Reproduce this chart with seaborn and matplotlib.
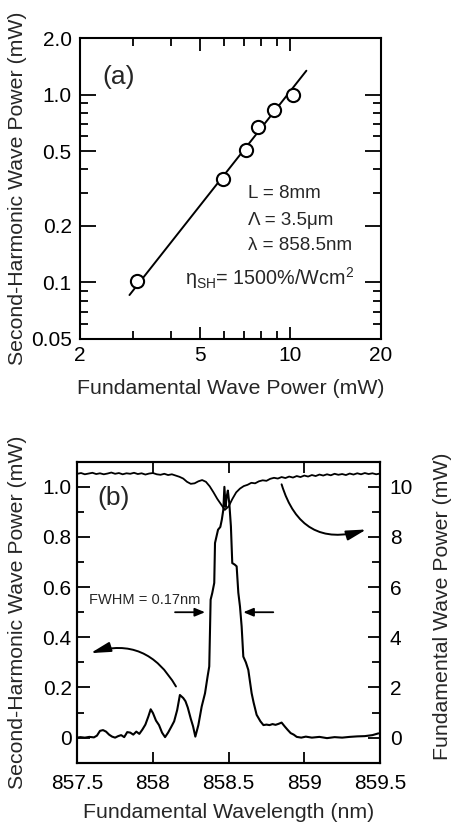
import numpy as np
import pandas as pd
import matplotlib
matplotlib.use("Agg")
import matplotlib.pyplot as plt
import seaborn as sns
from matplotlib.ticker import FixedLocator, FixedFormatter, NullFormatter

# ---------------- data: panel (a) ----------------
fund_power_a = [3.1, 5.95, 7.1, 7.8, 8.8, 10.2]          # mW
sh_power_a = [0.102, 0.357, 0.505, 0.67, 0.825, 0.995]   # mW
fit_fund = [2.92, 11.3]
fit_sh = [0.0857, 1.34]

a_xticks = [2, 5, 10, 20]
a_xlabels = ["2", "5", "10", "20"]
a_xminor = [3, 4, 6, 7, 8, 9]
a_yticks = [0.05, 0.1, 0.2, 0.5, 1.0, 2.0]
a_ylabels = ["0.05", "0.1", "0.2", "0.5", "1.0", "2.0"]
a_yminor = [0.06, 0.07, 0.08, 0.09, 0.3, 0.4, 0.6, 0.7, 0.8, 0.9]

# ---------------- data: panel (b) ----------------
sh_wavelength = [857.50, 857.52, 857.55, 857.58, 857.61, 857.63, 857.65, 857.67, 857.69,
                 857.71, 857.73, 857.75, 857.77, 857.79, 857.81, 857.83, 857.85, 857.87,
                 857.89, 857.91, 857.93, 857.95, 857.97, 857.985, 858.00, 858.02, 858.04,
                 858.06, 858.08, 858.10, 858.12, 858.14, 858.16, 858.178, 858.20, 858.215,
                 858.23, 858.25, 858.265, 858.28, 858.30, 858.322, 858.344, 858.361, 858.372,
                 858.377, 858.381, 858.392, 858.405, 858.41, 858.43, 858.445, 858.455,
                 858.465, 858.472, 858.480, 858.487, 858.495, 858.505, 858.515, 858.524,
                 858.540, 858.553, 858.564, 858.575, 858.586, 858.597, 858.614, 858.630,
                 858.652, 858.665, 858.685, 858.71, 858.73, 858.75, 858.77, 858.79, 858.81,
                 858.83, 858.85, 858.87, 858.89, 858.91, 858.93, 858.95, 858.98, 859.01,
                 859.05, 859.10, 859.15, 859.20, 859.25, 859.30, 859.35, 859.40, 859.45,
                 859.49]
sh_power_b = [0.000, 0.002, 0.000, 0.003, 0.001, 0.008, 0.027, 0.030, 0.024,
              0.012, 0.004, 0.000, 0.006, 0.010, 0.002, 0.022, 0.020, 0.012,
              0.024, 0.015, 0.032, 0.052, 0.085, 0.113, 0.098, 0.068, 0.050,
              0.020, 0.002, 0.020, 0.042, 0.065, 0.110, 0.170, 0.158, 0.145,
              0.120, 0.075, 0.045, 0.004, 0.050, 0.124, 0.177, 0.244, 0.284,
              0.430, 0.550, 0.577, 0.617, 0.776, 0.829, 0.840, 0.869,
              0.909, 1.000, 0.920, 0.960, 0.985, 0.930, 0.843, 0.696,
              0.690, 0.683, 0.578, 0.523, 0.443, 0.323, 0.300, 0.270,
              0.177, 0.140, 0.091, 0.065, 0.050, 0.052, 0.050, 0.054, 0.051,
              0.055, 0.060, 0.045, 0.031, 0.018, 0.012, 0.003, 0.000, 0.004,
              0.000, 0.003, -0.002, 0.002, 0.000, 0.003, 0.005, 0.006, 0.010,
              0.017]

fw_wavelength = [857.500, 857.525, 857.550, 857.575, 857.600, 857.625, 857.650, 857.675,
                 857.700, 857.725, 857.750, 857.775, 857.800, 857.825, 857.850, 857.875,
                 857.900, 857.925, 857.950, 857.975, 858.000, 858.025, 858.050, 858.075,
                 858.100, 858.125, 858.150, 858.175, 858.200, 858.225, 858.250, 858.275,
                 858.300, 858.325, 858.350, 858.375, 858.400, 858.425, 858.450, 858.475,
                 858.500, 858.525, 858.550, 858.575, 858.600, 858.625, 858.650, 858.675,
                 858.700, 858.725, 858.750, 858.775, 858.800, 858.825, 858.850, 858.875,
                 858.900, 858.925, 858.950, 858.975, 859.000, 859.025, 859.050, 859.075,
                 859.100, 859.125, 859.150, 859.175, 859.200, 859.225, 859.250, 859.275,
                 859.300, 859.325, 859.350, 859.375, 859.400, 859.425, 859.450, 859.475,
                 859.500]
fw_power_b = [10.52, 10.55, 10.50, 10.53, 10.56, 10.51, 10.54, 10.50,
              10.53, 10.57, 10.52, 10.55, 10.50, 10.54, 10.52, 10.56,
              10.51, 10.54, 10.49, 10.53, 10.55, 10.50, 10.48, 10.52,
              10.47, 10.50, 10.45, 10.40, 10.33, 10.20, 10.12, 10.14,
              10.22, 10.27, 10.20, 10.02, 9.78, 9.52, 9.30, 9.08,
              9.22, 9.52, 9.78, 9.93, 10.03, 10.08, 10.16, 10.14,
              10.22, 10.26, 10.24, 10.32, 10.36, 10.33, 10.39, 10.35,
              10.41, 10.37, 10.43, 10.39, 10.45, 10.41, 10.47, 10.43,
              10.49, 10.45, 10.50, 10.46, 10.52, 10.48, 10.51, 10.47,
              10.53, 10.49, 10.54, 10.50, 10.55, 10.51, 10.54, 10.50,
              10.53]

b_xticks = [857.5, 858, 858.5, 859, 859.5]
b_xlabels = ["857.5", "858", "858.5", "859", "859.5"]
b_yticks = [0, 0.2, 0.4, 0.6, 0.8, 1.0]
b_ylabels = ["0", "0.2", "0.4", "0.6", "0.8", "1.0"]
b_yminor = [0.1, 0.3, 0.5, 0.7, 0.9]
b_y2ticks = [0, 2, 4, 6, 8, 10]
b_y2labels = ["0", "2", "4", "6", "8", "10"]
b_y2minor = [1, 3, 5, 7, 9]

# ---------------- style ----------------
sns.set_theme(style="ticks")
plt.rcParams["font.family"] = ["Liberation Sans", "DejaVu Sans"]
plt.rcParams["mathtext.fontset"] = "custom"
plt.rcParams["mathtext.rm"] = "Liberation Sans"
plt.rcParams["mathtext.it"] = "Liberation Sans:italic"
plt.rcParams["axes.linewidth"] = 1.5
plt.rcParams["axes.edgecolor"] = "black"

TICK = 15
LAB = 15.3

fig = plt.figure(figsize=(4.53, 8.25), dpi=100)
axa = fig.add_axes([0.1766, 0.5891, 0.6645, 0.3648])
axb = fig.add_axes([0.1706, 0.0755, 0.6682, 0.3648])

# ---------------- panel (a) ----------------
dfa = pd.DataFrame({"fund": fund_power_a, "sh": sh_power_a})
dfit = pd.DataFrame({"fund": fit_fund, "sh": fit_sh})
sns.lineplot(data=dfit, x="fund", y="sh", ax=axa, color="black", lw=1.4,
             estimator=None, sort=False, zorder=2)
sns.scatterplot(data=dfa, x="fund", y="sh", ax=axa, s=90, facecolor="white",
                edgecolor="black", linewidth=1.5, zorder=3)
axa.set_xscale("log")
axa.set_yscale("log")
axa.set_xlim(2, 20)
axa.set_ylim(0.05, 2.0)
axa.xaxis.set_major_locator(FixedLocator(a_xticks))
axa.xaxis.set_major_formatter(FixedFormatter(a_xlabels))
axa.xaxis.set_minor_locator(FixedLocator(a_xminor))
axa.xaxis.set_minor_formatter(NullFormatter())
axa.yaxis.set_major_locator(FixedLocator(a_yticks))
axa.yaxis.set_major_formatter(FixedFormatter(a_ylabels))
axa.yaxis.set_minor_locator(FixedLocator(a_yminor))
axa.yaxis.set_minor_formatter(NullFormatter())
axa.tick_params(axis="both", which="both", direction="in", top=True, right=True,
                colors="black", labelsize=TICK, width=1.3)
axa.tick_params(axis="x", which="major", length=9, pad=5)
axa.tick_params(axis="x", which="minor", length=6)
axa.tick_params(axis="y", which="major", length=11.5, pad=6)
axa.tick_params(axis="y", which="minor", length=6)
axa.set_xlabel("Fundamental Wave Power (mW)", fontsize=LAB, va="center")
axa.set_ylabel("Second-Harmonic Wave Power (mW)", fontsize=LAB, va="center")
axa.xaxis.set_label_coords(0.5, -0.163)
axa.yaxis.set_label_coords(-0.209, 0.5)

axa.text(0.073, 0.870, "(a)", transform=axa.transAxes, fontsize=19, va="center", ha="left")
axa.text(0.558, 0.485, "L = 8mm", transform=axa.transAxes, fontsize=13.5, va="center")
axa.text(0.558, 0.395, "Λ = 3.5μm", transform=axa.transAxes, fontsize=13.5, va="center")
axa.text(0.558, 0.312, "λ = 858.5nm", transform=axa.transAxes, fontsize=13.5, va="center")
axa.text(0.349, 0.203, r"$\mathrm{η}_{\mathrm{SH}}$= 1500%/Wcm$^{2}$", transform=axa.transAxes,
         fontsize=14.2, va="center")

# ---------------- panel (b) ----------------
dfs = pd.DataFrame({"wl": sh_wavelength, "p": sh_power_b})
dff = pd.DataFrame({"wl": fw_wavelength, "p": fw_power_b})
sns.lineplot(data=dfs, x="wl", y="p", ax=axb, color="black", lw=1.5,
             estimator=None, sort=False)
axb2 = axb.twinx()
sns.lineplot(data=dff, x="wl", y="p", ax=axb2, color="black", lw=1.3,
             estimator=None, sort=False)
axb.set_xlim(857.5, 859.5)
axb.set_ylim(-0.1, 1.1)
axb2.set_ylim(-1, 11)
axb.xaxis.set_major_locator(FixedLocator(b_xticks))
axb.xaxis.set_major_formatter(FixedFormatter(b_xlabels))
axb.yaxis.set_major_locator(FixedLocator(b_yticks))
axb.yaxis.set_major_formatter(FixedFormatter(b_ylabels))
axb.yaxis.set_minor_locator(FixedLocator(b_yminor))
axb2.yaxis.set_major_locator(FixedLocator(b_y2ticks))
axb2.yaxis.set_major_formatter(FixedFormatter(b_y2labels))
axb2.yaxis.set_minor_locator(FixedLocator(b_y2minor))
axb.tick_params(axis="both", which="both", direction="in", top=True, right=False,
                colors="black", labelsize=TICK, width=1.3)
axb.tick_params(axis="x", which="major", length=8, pad=8)
axb.tick_params(axis="y", which="major", length=9, pad=4)
axb.tick_params(axis="y", which="minor", length=5)
axb2.tick_params(axis="y", which="both", direction="in", colors="black",
                 labelsize=TICK, width=1.3)
axb2.tick_params(axis="y", which="major", length=9, pad=7)
axb2.tick_params(axis="y", which="minor", length=6)
for sp in axb2.spines.values():
    sp.set_linewidth(1.5)
    sp.set_color("black")

axb.set_xlabel("Fundamental Wavelength (nm)", fontsize=LAB, va="center")
axb.set_ylabel("Second-Harmonic Wave Power (mW)", fontsize=LAB, va="center")
axb2.set_ylabel("Fundamental Wave Power (mW)", fontsize=LAB, va="center", rotation=90)
axb.xaxis.set_label_coords(0.5, -0.167)
axb.yaxis.set_label_coords(-0.196, 0.5)
axb2.yaxis.set_label_coords(1.205, 0.52)

axb.text(0.068, 0.879, "(b)", transform=axb.transAxes, fontsize=19, va="center", ha="left")
axb.text(857.577, 0.55, "FWHM = 0.17nm", fontsize=10.5, va="center", ha="left")

# FWHM arrows
axb.annotate("", xy=(858.344, 0.50), xytext=(858.146, 0.50),
             arrowprops=dict(arrowstyle="-|>,head_length=0.6,head_width=0.25",
                             color="black", lw=1.3, shrinkA=0, shrinkB=0,
                             mutation_scale=10))
axb.annotate("", xy=(858.597, 0.50), xytext=(858.795, 0.50),
             arrowprops=dict(arrowstyle="-|>,head_length=0.6,head_width=0.25",
                             color="black", lw=1.3, shrinkA=0, shrinkB=0,
                             mutation_scale=10))
# curved arrows
axb.annotate("", xy=(859.41, 0.83), xytext=(858.85, 1.01),
             arrowprops=dict(arrowstyle="-|>,head_length=1.2,head_width=0.3",
                             color="black", lw=1.4, shrinkA=0, shrinkB=0,
                             mutation_scale=10, connectionstyle="arc3,rad=0.5"))
axb.annotate("", xy=(857.588, 0.337), xytext=(858.152, 0.204),
             arrowprops=dict(arrowstyle="-|>,head_length=1.2,head_width=0.3",
                             color="black", lw=1.4, shrinkA=0, shrinkB=0,
                             mutation_scale=10, connectionstyle="arc3,rad=0.4"))

fig.savefig("out.png", dpi=100)
